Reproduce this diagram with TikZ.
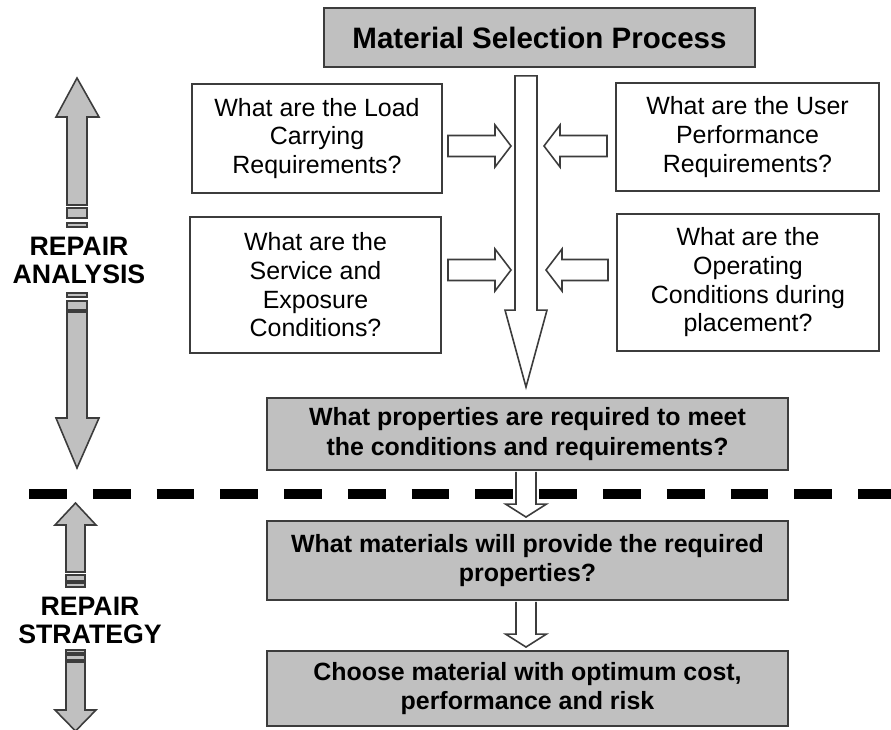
\documentclass[tikz,border=0pt]{standalone}
\usepackage{fontspec}
\setmainfont{Liberation Sans}
\usetikzlibrary{calc,positioning}

\definecolor{boxgray}{RGB}{192,192,192}
\definecolor{edgegray}{RGB}{60,60,60}

% horizontal hollow arrow: shaft end x, tip x, y
\newcommand{\harrow}[3]{%
  \pgfmathsetmacro\hb{#2-16*sign(#2-#1)}
  \draw[hollow] (#1,#3-10.5) -- (\hb,#3-10.5) -- (\hb,#3-21) -- (#2,#3)
    -- (\hb,#3+21) -- (\hb,#3+10.5) -- (#1,#3+10.5) -- cycle;}
% downward hollow arrow between two stacked boxes
\newcommand{\blockdown}[2]{%
  \draw[hollow] ($(#1.south)+(-11.5,1)$) -- ($(#2.north)+(-11.5,-16)$)
    -- ($(#2.north)+(-22,-16)$) -- ($(#2.north)+(-1.5,-3)$)
    -- ($(#2.north)+(19,-16)$) -- ($(#2.north)+(8.5,-16)$)
    -- ($(#1.south)+(8.5,1)$);}

\tikzset{
  qbox/.style={draw=edgegray, line width=1.1pt, fill=white, align=center,
    inner sep=0pt, font=\fontsize{14.2}{16.3}\selectfont},
  gbox/.style={qbox, fill=boxgray, font=\bfseries\fontsize{14.2}{16.6}\selectfont},
  hollow/.style={draw=edgegray, line width=0.9pt, fill=white},
  side/.style={draw=edgegray, line width=0.9pt, fill=boxgray},
  sidelabel/.style={font=\bfseries\fontsize{15.2}{16}\selectfont, align=center}
}

\begin{document}
\begin{tikzpicture}[x=0.02cm, y=-0.02cm]
      \useasboundingbox (0,0) rectangle (891,729);

      % Define nodes
      \node[gbox, minimum width=8.62cm, minimum height=1.18cm,
        font=\bfseries\fontsize{16.8}{18}\selectfont] (title) at (539.5,37.5) {Material Selection Process};

      \node[qbox, minimum width=5cm, minimum height=2.18cm] (load) at (317,138.5)
        {What are the Load\\Carrying\\Requirements?};
      \node[qbox, minimum width=5.02cm, minimum height=2.72cm] (service) at (315.5,285)
        {What are the\\Service and\\Exposure\\Conditions?};
      \node[qbox, minimum width=5.26cm, minimum height=2.16cm] (user) at (747.5,137)
        {What are the User\\Performance\\Requirements?};
      \node[qbox, minimum width=5.24cm, minimum height=2.74cm] (operating) at (748,282.5)
        {What are the\\Operating\\Conditions during\\placement?};

      \node[gbox, minimum width=10.42cm, minimum height=1.44cm] (props) at (527.5,434)
        {What properties are required to meet\\the conditions and requirements?};
      \node[gbox, minimum width=10.42cm, minimum height=1.58cm] (mats) at (527.5,560.5)
        {What materials will provide the required\\properties?};
      \node[gbox, minimum width=10.42cm, minimum height=1.5cm] (choose) at (527.5,688.5)
        {Choose material with optimum cost,\\performance and risk};

      \node[sidelabel] (analysis) at (79,260) {REPAIR\\ANALYSIS};
      \node[sidelabel] (strategy) at (90,620) {REPAIR\\STRATEGY};

      % Central flow arrow
      \coordinate (ctop) at ($(title.south)+(-13.5,8)$);
      \coordinate (ctip) at ($(props.north)+(-1.5,-10)$);
      \draw[hollow] ($(ctop)+(-11,0)$) -- ($(ctop)+(11,0)$) -- ($(ctip)+(11,-77)$)
        -- ($(ctip)+(21,-77)$) -- (ctip) -- ($(ctip)+(-21,-77)$)
        -- ($(ctip)+(-11,-77)$) -- cycle;

      % Side inputs
      \harrow{448}{511}{146}
      \harrow{607}{544}{146}
      \harrow{448}{511}{270}
      \harrow{608}{546}{270}

      % Divider
      \coordinate (divL) at (29,494);
      \coordinate (divR) at (905,494);
      \draw[line width=5.7pt, dash pattern=on 21.5pt off 14.8pt] (divL) -- (divR);

      % Steps below
      \blockdown{props}{mats}
      \blockdown{mats}{choose}

      % Repair analysis arrows
      \draw[side] (67,205) -- (67,117) -- (56,117) -- (77,78) -- (99,117) -- (87,117) -- (87,205) -- cycle;
      \draw[side] (67,208) rectangle (87,218);
      \draw[side] (67,223) rectangle (87,227);
      \draw[side] (67,293) rectangle (87,297);
      \draw[side] (67,301) rectangle (87,310);
      \draw[side] (67,312) -- (67,418) -- (56,418) -- (77,468) -- (99,418) -- (87,418) -- (87,312) -- cycle;

      % Repair strategy arrows
      \draw[side] (66,572) -- (66,525) -- (55,525) -- (75.5,503) -- (96,525) -- (85,525) -- (85,572) -- cycle;
      \draw[side] (66,575) rectangle (85,581);
      \draw[side] (66,583) rectangle (85,587);
      \draw[side] (66,650) rectangle (85,653);
      \draw[side] (66,655) rectangle (85,660);
      \draw[side] (66,662) -- (66,710) -- (55,710) -- (75.5,731) -- (96,710) -- (85,710) -- (85,662) -- cycle;
    \end{tikzpicture}
\end{document}
